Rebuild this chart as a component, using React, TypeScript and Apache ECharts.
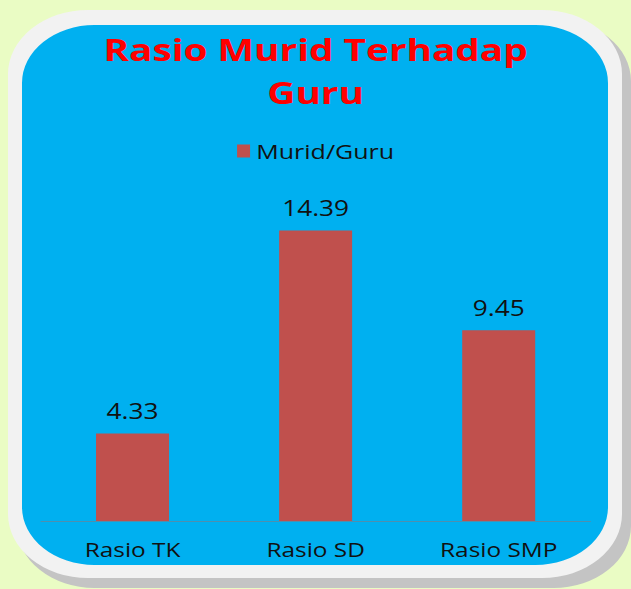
import React, { useEffect, useRef } from "react";
import * as echarts from "echarts";

const categories = ["Rasio TK", "Rasio SD", "Rasio SMP"];
const seriesName = "Murid/Guru";
const values = [4.33, 14.39, 9.45];
const titleText = "Rasio Murid Terhadap\nGuru";

const SX = 1.25; // horizontal stretch of the reference picture
const W = 631 / SX;
const H = 589;
const sx = (v: number) => v / SX;

export default function App() {
  const ref = useRef<HTMLDivElement>(null);
  useEffect(() => {
    if (!ref.current) return;
    const chart = echarts.init(ref.current, undefined, { renderer: "svg" });
    const font = "Open Sans";
    chart.setOption({
      animation: false,
      backgroundColor: "#eafcc4",
      graphic: [
        { type: "rect", z: -10, shape: { x: sx(17), y: 19, width: sx(614), height: 569, r: 62 }, style: { fill: "#c4c4c4" } },
        { type: "rect", z: -9, shape: { x: sx(8), y: 10, width: sx(614), height: 568, r: 64 }, style: { fill: "#f2f2f2" } },
        { type: "rect", z: -8, shape: { x: sx(22), y: 25, width: sx(586), height: 540, r: 58 }, style: { fill: "#00b0f0" } },
      ],
      title: {
        text: titleText,
        left: "center",
        top: 23,
        textStyle: { fontFamily: font, fontSize: 31, fontWeight: "bold", color: "#ff0000", lineHeight: 43 },
      },
      legend: {
        top: 136,
        left: "center",
        itemWidth: sx(13),
        itemHeight: 13,
        icon: "rect",
        textStyle: { fontFamily: font, fontSize: 20, color: "#111" },
        data: [seriesName],
      },
      grid: { left: sx(41), right: sx(41), top: 198, bottom: 68 },
      xAxis: {
        type: "category",
        data: categories,
        axisTick: { show: false },
        axisLine: { lineStyle: { color: "#4f8fae", width: 1 } },
        axisLabel: { fontFamily: font, fontSize: 19.5, color: "#111", margin: 18 },
      },
      yAxis: { type: "value", min: 0, max: 16, show: false, splitLine: { show: false } },
      series: [
        {
          name: seriesName,
          type: "bar",
          data: values,
          barWidth: sx(73),
          itemStyle: { color: "#c0504d" },
          label: { show: true, position: "top", distance: 12, fontFamily: font, fontSize: 21, color: "#111" },
        },
      ],
    });
    return () => chart.dispose();
  }, []);
  return (
    <div style={{ position: "absolute", left: 0, top: 0, width: 631, height: H, overflow: "hidden" }}>
      <div
        ref={ref}
        style={{ width: W, height: H, transform: `scaleX(${SX})`, transformOrigin: "0 0" }}
      />
    </div>
  );
}
